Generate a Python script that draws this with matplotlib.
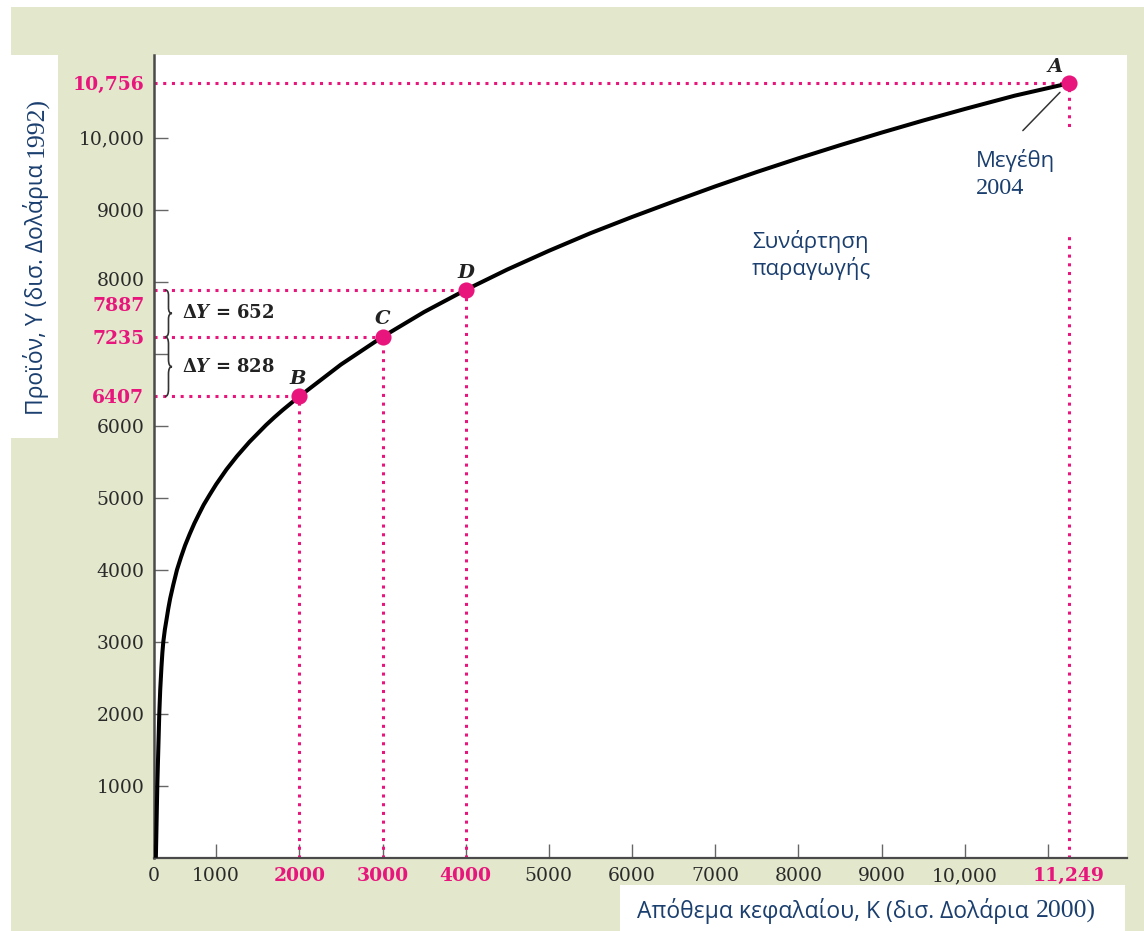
import numpy as np
import matplotlib
matplotlib.use("Agg")
import matplotlib.pyplot as plt
from matplotlib.patches import Rectangle, PathPatch
from matplotlib.path import Path
from matplotlib.transforms import blended_transform_factory, ScaledTranslation

# production function (K in bn 2000 $, Y in bn 1992 $)
capital = [30, 53, 85, 100, 120, 135, 150, 175, 200, 230, 260, 310, 370, 435, 500, 575, 650,
           725, 800, 900, 1000, 1125, 1250, 1400, 1600, 1700, 1800, 1900, 2000, 2500, 3000,
           3500, 4000, 4500, 5000, 5500, 6000, 6500, 7000, 7500, 8000, 8500, 9000, 9500,
           10000, 10600, 11249]
output = [0, 1000, 2000, 2330, 2650, 2850, 3000, 3170, 3300, 3460, 3600, 3790, 4000, 4176, 4338,
          4497, 4645, 4776, 4903, 5047, 5186, 5394, 5577, 5775, 6010, 6117, 6218, 6313, 6407,
          6850, 7235, 7580, 7887, 8170, 8430, 8675, 8900, 9115, 9325, 9525, 9715, 9897, 10072,
          10240, 10400, 10585, 10756]

pt_names = ["A", "B", "C", "D"]
pt_k = [11249, 2000, 3000, 4000]
pt_y = [10756, 6407, 7235, 7887]

x_ticks = list(range(0, 12000, 1000))
x_ticklabels = ["0", "1000", "2000", "3000", "4000", "5000", "6000", "7000", "8000", "9000", "10,000", ""]
y_ticks = list(range(1000, 11000, 1000))
y_ticklabels = ["1000", "2000", "3000", "4000", "5000", "6000", "", "8000", "9000", "10,000"]

PINK = "#e8157c"
NAVY = "#1a3e6e"
BEIGE = "#e3e7cc"
SANS = "Open Sans"
SERIF = "DejaVu Serif"

plt.rcParams.update({"font.family": SERIF, "mathtext.fontset": "dejavuserif"})

W, H = 1144, 931
fig = plt.figure(figsize=(W / 100, H / 100), dpi=100, facecolor="white")
fig.add_artist(Rectangle((11 / W, 0), 1, 1 - 7 / H, transform=fig.transFigure,
                         facecolor=BEIGE, edgecolor="none", zorder=0))
ax = fig.add_axes([154 / W, 1 - 857.7 / H, 973 / W, 802.7 / H])
ax.set_facecolor("white")


# the original squeezes the 0-1000 span of the K axis
def fwd(x):
    x = np.asarray(x, float)
    return np.where(x < 1000, x * 0.747, x - 253)


def inv(u):
    u = np.asarray(u, float)
    return np.where(u < 747, u / 0.747, u + 253)


ax.set_xscale("function", functions=(fwd, inv))
ax.set_xlim(0, 11950)
ax.set_ylim(0, 11150)

for s in ["top", "right"]:
    ax.spines[s].set_visible(False)
ax.spines["left"].set_linewidth(1.8)
ax.spines["bottom"].set_linewidth(1.6)
ax.spines["left"].set_color("#4a4a4a")
ax.spines["bottom"].set_color("#4a4a4a")

ax.set_xticks(x_ticks)
ax.set_xticklabels(x_ticklabels)
ax.set_yticks(y_ticks)
ax.set_yticklabels(y_ticklabels)
ax.set_xticks([pt_k[0]], minor=True)
ax.set_xticklabels([f"{pt_k[0]:,}"], minor=True)
ax.set_yticks(pt_y, minor=True)
ax.set_yticklabels([f"{v:,}" if v >= 10000 else str(v) for v in pt_y], minor=True)
ax.tick_params(which="major", direction="in", length=10, width=1, color="#666",
               labelsize=13.5, labelcolor="#2a2a2a", pad=7)
ax.tick_params(which="minor", length=0, labelsize=13.5, labelcolor=PINK, pad=7)
for lab, v in zip(ax.get_xticklabels(), x_ticks):
    if v in pt_k:
        lab.set_color(PINK)
        lab.set_fontweight("bold")
for lab in ax.get_xticklabels(minor=True) + ax.get_yticklabels(minor=True):
    lab.set_fontweight("bold")
# keep 7887 and 8000 apart
for lab, v in zip(ax.get_yticklabels(minor=True), pt_y):
    if v == 7887:
        lab.set_transform(lab.get_transform() + ScaledTranslation(0, -10 / 72, fig.dpi_scale_trans))
for lab, v in zip(ax.get_yticklabels(), y_ticks):
    if v == 8000:
        lab.set_transform(lab.get_transform() + ScaledTranslation(0, 2 / 72, fig.dpi_scale_trans))

# dotted guides
dots = (0, (1, 1.85))
for k, y in zip(pt_k, pt_y):
    ax.plot([0, k], [y, y], ls=dots, lw=2.2, color=PINK, zorder=2)
    ax.plot([k, k], [0, y], ls=dots, lw=2.2, color=PINK, zorder=2)

ax.plot(capital, output, color="black", lw=2.9, zorder=4, solid_capstyle="butt", solid_joinstyle="round")
ax.scatter(pt_k, pt_y, s=135, color=PINK, zorder=5, linewidths=0)

offs = {"A": (-10, 11.5), "B": (-1.5, 12.5), "C": (0, 12.5), "D": (0, 12.5)}
for n, k, y in zip(pt_names, pt_k, pt_y):
    ax.annotate(n, (k, y), xytext=offs[n], textcoords="offset points", ha="center", va="center",
                fontsize=14, fontweight="bold", fontstyle="italic", color="#222", zorder=6)


# braces for the output differences
def brace(y0, y1, x=0.0113, w=0.0072):
    tr = blended_transform_factory(ax.transAxes, ax.transData)
    ym = (y0 + y1) / 2
    xm = x + w / 2
    c = (y1 - y0) * 0.12
    verts = [(x, y1), (xm, y1), (xm, y1 - c), (xm, ym + c), (xm, ym), (x + w, ym),
             (xm, ym), (xm, ym - c), (xm, y0 + c), (xm, y0), (x, y0)]
    codes = [Path.MOVETO, Path.CURVE3, Path.CURVE3, Path.LINETO, Path.CURVE3, Path.CURVE3,
             Path.CURVE3, Path.CURVE3, Path.LINETO, Path.CURVE3, Path.CURVE3]
    ax.add_patch(PathPatch(Path(verts, codes), transform=tr, facecolor="none",
                           edgecolor="#333", lw=1.2, zorder=5, clip_on=False))
    ax.text(0.0288, ym, r"$\mathbf{\Delta}\mathbfit{Y}$ = %d" % round(y1 - y0),
            transform=tr, ha="left", va="center", fontsize=13, fontweight="bold",
            color="#222", zorder=6)


brace(pt_y[2], pt_y[3])
brace(pt_y[1], pt_y[2])

# labels inside the plot
ax.text(0.6146, 0.751, "Συνάρτηση\nπαραγωγής", transform=ax.transAxes, ha="left", va="center",
        fontsize=16, family=SANS, color=NAVY, linespacing=1.2, zorder=6)
ax.add_patch(Rectangle((0.844, 0.779), 0.113, 0.125, transform=ax.transAxes,
                       facecolor="white", edgecolor="none", zorder=3))
ax.text(0.845, 0.869, "Μεγέθη", transform=ax.transAxes, ha="left", va="center",
        fontsize=16, family=SANS, color=NAVY, zorder=6)
ax.text(0.845, 0.834, "2004", transform=ax.transAxes, ha="left", va="center",
        fontsize=17.5, family="Liberation Serif", color=NAVY, zorder=6)
ax.annotate("", xy=(pt_k[0], pt_y[0]), xytext=(-33, -34), textcoords="offset points",
            arrowprops=dict(arrowstyle="-", color="#333", lw=1.1, shrinkA=0, shrinkB=9), zorder=6)

# axis titles in white boxes
fig.add_artist(Rectangle((11 / W, 1 - 438 / H), 47 / W, 383 / H, transform=fig.transFigure,
                         facecolor="white", edgecolor="none", zorder=1))
fig.add_artist(Rectangle((620 / W, 0), 505 / W, 46 / H, transform=fig.transFigure,
                         facecolor="white", edgecolor="none", zorder=1))

ty = fig.text(43 / W, 1 - 415 / H, "Προϊόν, Y (δισ. Δολάρια", rotation=90, rotation_mode="anchor",
              ha="left", va="baseline", fontsize=16.5, family=SANS, color=NAVY, zorder=2)
tx = fig.text(637 / W, 1 - 918 / H, "Απόθεμα κεφαλαίου, K (δισ. Δολάρια", ha="left", va="baseline",
              fontsize=16.5, family=SANS, color=NAVY, zorder=2)
fig.canvas.draw()
bby = ty.get_window_extent()
bbx = tx.get_window_extent()
fig.text(43 / W, (bby.y1 + 7) / H, "1992)", rotation=90, rotation_mode="anchor", ha="left",
         va="baseline", fontsize=18.5, family="Liberation Serif", color=NAVY, zorder=2)
fig.text((bbx.x1 + 7) / W, 1 - 918 / H, "2000)", ha="left", va="baseline",
         fontsize=18.5, family="Liberation Serif", color=NAVY, zorder=2)

fig.savefig("out.png", dpi=100, facecolor=fig.get_facecolor())
